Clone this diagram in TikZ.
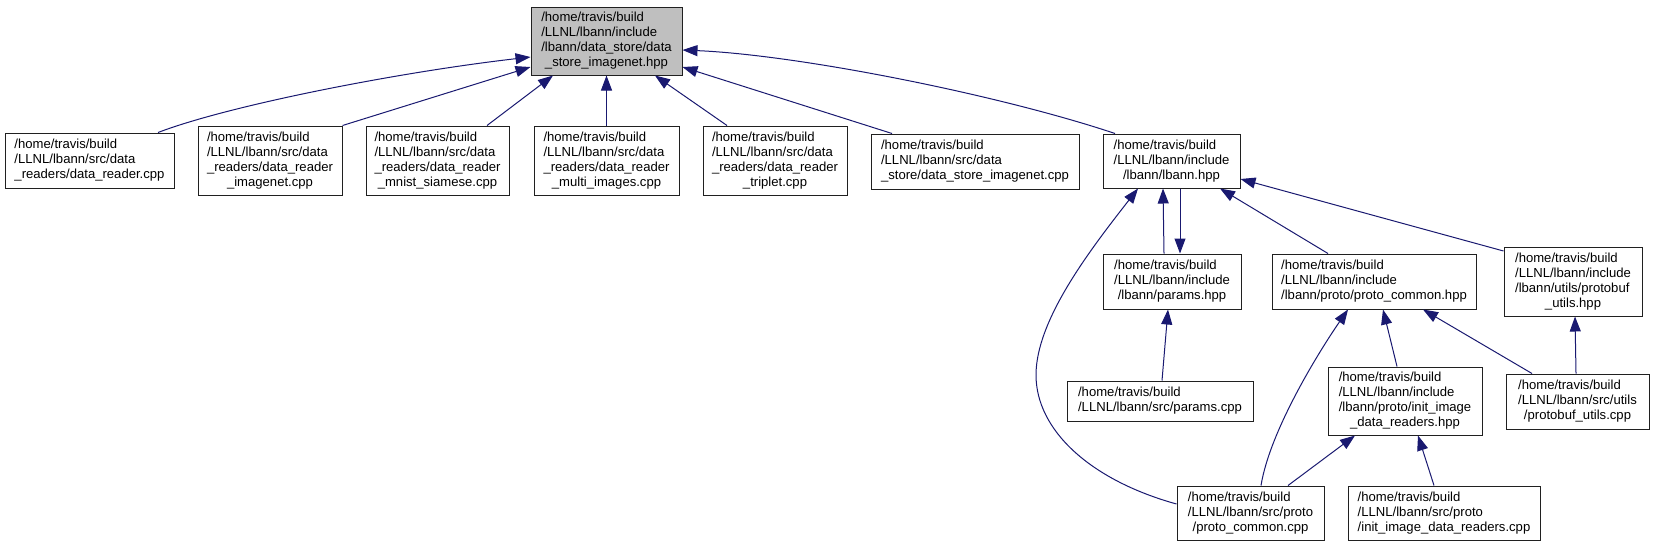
\documentclass[tikz,border=0pt]{standalone}
\usepackage{fontspec}
\setmainfont{Liberation Sans}
\usetikzlibrary{arrows.meta}
\definecolor{dxblue}{HTML}{191970}
\definecolor{dxgray}{HTML}{BFBFBF}
\definecolor{dxborder}{HTML}{202020}
\newcommand{\flines}[2]{\begin{tabular}{@{}l@{}}#1\\\multicolumn{1}{@{}c@{}}{#2}\end{tabular}}

\begin{document}
\begin{tikzpicture}[x=1pt, y=-1pt,
    file/.style={draw=dxborder, line width=1pt, inner sep=0pt, font=\fontsize{13.1}{15}\selectfont},
    dep/.style={-{Triangle[length=15pt,width=11pt]}, color=dxblue, line width=1pt}]
        \useasboundingbox (0,0) rectangle (1653,547);
        \node[file, fill=dxgray, minimum width=151, minimum height=68] (root) at (606.5,41) {\flines{/home/travis/build\\/LLNL/lbann/include\\/lbann/data\_store/data}{\_store\_imagenet.hpp}};
        \node[file, minimum width=169, minimum height=55] (dr) at (89.5,160.5) {\flines{/home/travis/build\\/LLNL/lbann/src/data}{\_readers/data\_reader.cpp}};
        \node[file, minimum width=144, minimum height=69] (dri) at (270,160.5) {\flines{/home/travis/build\\/LLNL/lbann/src/data\\\_readers/data\_reader}{\_imagenet.cpp}};
        \node[file, minimum width=143, minimum height=69] (drm) at (437.5,160.5) {\flines{/home/travis/build\\/LLNL/lbann/src/data\\\_readers/data\_reader}{\_mnist\_siamese.cpp}};
        \node[file, minimum width=145, minimum height=69] (drmi) at (606.5,160.5) {\flines{/home/travis/build\\/LLNL/lbann/src/data\\\_readers/data\_reader}{\_multi\_images.cpp}};
        \node[file, minimum width=144, minimum height=69] (drt) at (775,160.5) {\flines{/home/travis/build\\/LLNL/lbann/src/data\\\_readers/data\_reader}{\_triplet.cpp}};
        \node[file, minimum width=208, minimum height=55] (dsi) at (975,161.5) {\flines{/home/travis/build\\/LLNL/lbann/src/data}{\_store/data\_store\_imagenet.cpp}};
        \node[file, minimum width=137, minimum height=54] (lh) at (1171.5,161) {\flines{/home/travis/build\\/LLNL/lbann/include}{/lbann/lbann.hpp}};
        \node[file, minimum width=138, minimum height=55] (ph) at (1172,281.5) {\flines{/home/travis/build\\/LLNL/lbann/include}{/lbann/params.hpp}};
        \node[file, minimum width=204, minimum height=55] (pch) at (1374,281.5) {\flines{/home/travis/build\\/LLNL/lbann/include}{/lbann/proto/proto\_common.hpp}};
        \node[file, minimum width=138, minimum height=69] (puh) at (1573,281.5) {\flines{/home/travis/build\\/LLNL/lbann/include\\/lbann/utils/protobuf}{\_utils.hpp}};
        \node[file, minimum width=186, minimum height=40] (pc) at (1160,401) {\flines{/home/travis/build}{/LLNL/lbann/src/params.cpp}};
        \node[file, minimum width=154, minimum height=68] (iih) at (1405,401) {\flines{/home/travis/build\\/LLNL/lbann/include\\/lbann/proto/init\_image}{\_data\_readers.hpp}};
        \node[file, minimum width=143, minimum height=55] (puc) at (1577.5,401.5) {\flines{/home/travis/build\\/LLNL/lbann/src/utils}{/protobuf\_utils.cpp}};
        \node[file, minimum width=147, minimum height=54] (pcc) at (1250.5,513) {\flines{/home/travis/build\\/LLNL/lbann/src/proto}{/proto\_common.cpp}};
        \node[file, minimum width=192, minimum height=54] (iic) at (1444,513) {\flines{/home/travis/build\\/LLNL/lbann/src/proto}{/init\_image\_data\_readers.cpp}};
        \draw[dep] ([xshift=68.5]dr.north) .. controls (230,105) and (400,72) .. ([yshift=-16]root.west);
        \draw[dep] (dri.north east) -- ([yshift=-26]root.west);
        \draw[dep] ([xshift=49.5]drm.north) -- ([xshift=-53.5]root.south);
        \draw[dep] (drmi.north) -- (root.south);
        \draw[dep] ([xshift=-48]drt.north) -- ([xshift=48.5]root.south);
        \draw[dep] ([xshift=-83]dsi.north) -- ([yshift=-26]root.east);
        \draw[dep] ([xshift=-56.5]lh.north) .. controls (1000,95) and (800,55) .. ([yshift=-9]root.east);
        \draw[dep] ([xshift=-8]ph.north) -- ([xshift=-8.5]lh.south);
        \draw[dep] ([xshift=8.5]lh.south) -- ([xshift=8]ph.north);
        \draw[dep] ([xshift=-46]pch.north) -- ([xshift=48.5]lh.south);
        \draw[dep] ([yshift=30.5]puh.west) -- ([yshift=-18]lh.east);
        \draw[dep] ([yshift=9]pcc.west) .. controls (1090,480) and (1036,430) .. (1036,375) .. controls (1036,320) and (1090,250) .. ([xshift=-33.5]lh.south);
        \draw[dep] ([xshift=2]pc.north) -- ([xshift=-4]ph.south);
        \draw[dep] ([xshift=10.5]pcc.north) .. controls (1270,430) and (1320,350) .. ([xshift=-26]pch.south);
        \draw[dep] ([xshift=-8]iih.north) -- ([xshift=9]pch.south);
        \draw[dep] ([xshift=-45.5]puc.north) -- ([xshift=49]pch.south);
        \draw[dep] ([xshift=-1.5]puc.north) -- ([xshift=2]puh.south);
        \draw[dep] ([xshift=37.5]pcc.north) -- ([xshift=-50]iih.south);
        \draw[dep] ([xshift=-10]iic.north) -- ([xshift=13]iih.south);
      \end{tikzpicture}
\end{document}
